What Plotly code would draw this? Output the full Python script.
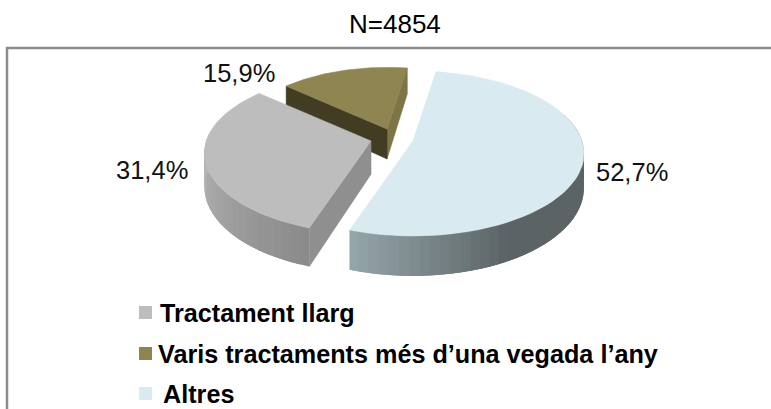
import math
import plotly.graph_objects as go

TITLE = "N=4854"
categories = ["Altres", "Tractament llarg", "Varis tractaments més d’una vegada l’any"]
values = [52.7, 31.4, 15.9]
top_colors = ["#d9eaf0", "#bdbdbd", "#8f8550"]

W, H = 771, 409
START = 9.0
RX, TY, PERSP, DEPTH = 169.0, 80.6, 0.151, 34.0
CENTERS = [(413, 141), (371, 141), (387, 129)]
SCALES = [1.0, 0.975, 0.88]
FONT = "Liberation Sans"

fig = go.Figure()


def proj(theta, c, s, drop=False):
    X, Y = math.sin(math.radians(theta)), math.cos(math.radians(theta))
    w = 1 + PERSP * Y
    x = c[0] + s * RX * X / w
    y = c[1] - s * TY * Y / w
    if drop:
        y += s * DEPTH / w
    return x, y


def poly(pts, color, line=0.6):
    fig.add_trace(go.Scatter(
        x=[p[0] for p in pts] + [pts[0][0]], y=[p[1] for p in pts] + [pts[0][1]],
        mode="lines", fill="toself", fillcolor=color,
        line=dict(color=color, width=line), hoverinfo="skip", showlegend=False))


def mix(a, b, t):
    t = max(0, min(1, t))
    ca = [int(a[i:i + 2], 16) for i in (1, 3, 5)]
    cb = [int(b[i:i + 2], 16) for i in (1, 3, 5)]
    return "#%02x%02x%02x" % tuple(round(u + (v - u) * t) for u, v in zip(ca, cb))


def arc(t0, t1, c, s, n=60):
    return [proj(t0 + (t1 - t0) * i / n, c, s) for i in range(n + 1)]


def wall(t0, t1, c, s, shade, step=3.0):
    # strips overlap the next one so that no seams show between them
    t = t0
    while t < t1 - 1e-6:
        u = min(t + 2 * step, t1)
        pts = [proj(t, c, s), proj(u, c, s), proj(u, c, s, drop=True), proj(t, c, s, drop=True)]
        poly(pts, shade(t), line=0)
        t += step


def apex_down(c, s):
    return (c[0], c[1] + s * DEPTH)


spans = []
a = START
for v in values:
    spans.append((a, a + v * 3.6))
    a += v * 3.6

# Varis tractaments (farthest)
t0, t1 = spans[2]
c, s = CENTERS[2], SCALES[2]
poly([c, proj(t1, c, s), proj(t1, c, s, drop=True), apex_down(c, s)], "#7d7545")
poly([c, proj(t0, c, s), proj(t0, c, s, drop=True), apex_down(c, s)], "#423c22")
poly([c] + arc(t0, t1, c, s), top_colors[2])

# Tractament llarg
t0, t1 = spans[1]
c, s = CENTERS[1], SCALES[1]
poly([c, proj(t0, c, s), proj(t0, c, s, drop=True), apex_down(c, s)], "#8f8f8f")
wall(t0, 275, c, s, lambda t: mix("#8b8b8b", "#b8b8b8", (t - 199) / 70))
poly([c] + arc(t0, t1, c, s), top_colors[1])

# Altres
t0, t1 = spans[0]
c, s = CENTERS[0], SCALES[0]
wall(70, t1, c, s, lambda t: mix("#5b6365", "#98a9ae", (t - 150) / 49))
poly([c] + arc(t0, t1, c, s), top_colors[0])

anns = [dict(x=395, y=24, text=TITLE, font=dict(size=26, color="#000", family=FONT))]
label_pos = [(632, 172), (152, 170), (239, 73)]
for v, p in zip(values, label_pos):
    anns.append(dict(x=p[0], y=p[1], text=f"{v:.1f}%".replace(".", ","),
                     font=dict(size=25.5, color="#111", family=FONT)))

legend_order = [1, 2, 0]
legend_x = [158, 156, 161]
legend_y = [313, 354, 394]
shapes = [
    dict(type="line", x0=6, x1=771, y0=48, y1=48, line=dict(color="#8c8c8c", width=2.5)),
    dict(type="line", x0=7, x1=7, y0=47, y1=409, line=dict(color="#8c8c8c", width=2.5)),
]
for i, tx, ly in zip(legend_order, legend_x, legend_y):
    shapes.append(dict(type="rect", x0=139, x1=152, y0=ly - 7, y1=ly + 6,
                       fillcolor=top_colors[i], line=dict(width=0)))
    anns.append(dict(x=tx, y=ly, text=f"<b>{categories[i]}</b>", xanchor="left",
                     font=dict(size=25.2, color="#000", family=FONT)))
for an in anns:
    an.update(xref="x", yref="y", showarrow=False)

fig.update_layout(
    width=W, height=H, margin=dict(l=0, r=0, t=0, b=0),
    paper_bgcolor="white", plot_bgcolor="white", showlegend=False,
    xaxis=dict(range=[0, W], visible=False, fixedrange=True),
    yaxis=dict(range=[H, 0], visible=False, fixedrange=True),
    shapes=shapes, annotations=anns,
)
fig.write_html("out.html", config=dict(displayModeBar=False),
               post_script="document.body.style.margin='0';document.body.style.overflow='hidden';")
